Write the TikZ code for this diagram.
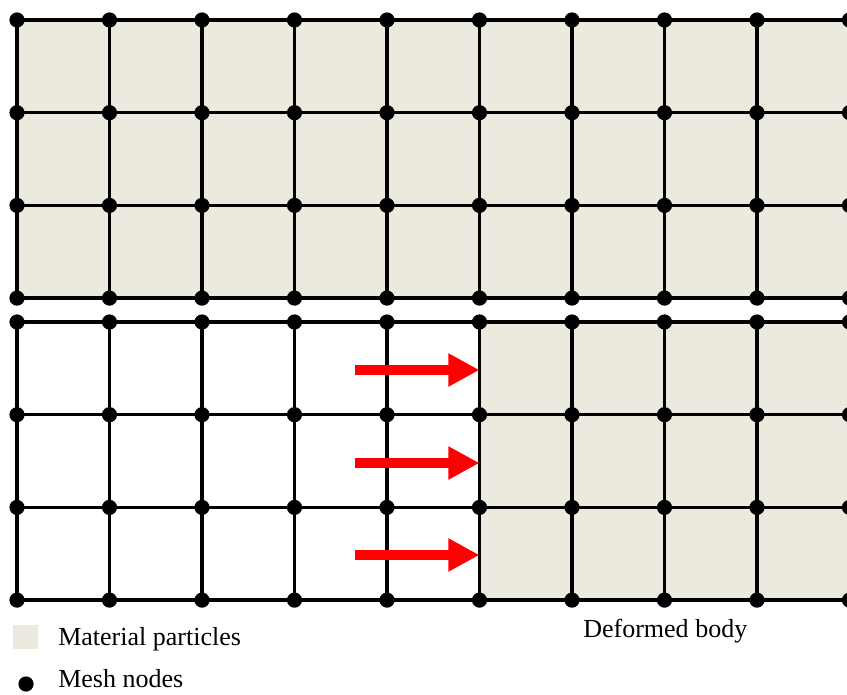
\documentclass[tikz,border=0pt]{standalone}
\usepackage{fontspec}
\setmainfont{Liberation Serif}
\usetikzlibrary{arrows.meta}
\definecolor{particle}{HTML}{ECEADF}
\tikzstyle{grid} = [draw, line width=2.3pt]
\tikzstyle{meshnode} = [circle, fill=black, inner sep=0pt, minimum size=0.38cm]
\tikzstyle{push} = [draw=red, line width=0.25cm, -{Triangle[length=0.78cm, width=0.78cm]}]
\tikzstyle{label} = [inner sep=0pt, anchor=base west, font=\fontsize{18.5}{22}\selectfont]

\begin{document}
\begin{tikzpicture}[x=0.025cm, y=-0.025cm]
    \useasboundingbox (0,0) rectangle (847,695);
    \clip (0,0) rectangle (847,695);

    % mesh points: t = initial body, b = deformed body
    \foreach \i in {0,...,9} {
        \foreach \j in {0,...,3} {
            \coordinate (t-\i-\j) at ({17+92.5*\i}, {20+92.7*\j});
            \coordinate (b-\i-\j) at ({17+92.5*\i}, {322+92.7*\j});
        }
    }

    % material particles
    \fill [particle] (t-0-0) rectangle (t-9-3);
    \fill [particle] (b-5-0) rectangle (b-9-3);

    % grid lines
    \foreach \j in {0,...,3} {
        \path [grid] (t-0-\j) -- (t-9-\j);
        \path [grid] (b-0-\j) -- (b-9-\j);
    }
    \foreach \i in {0,...,9} {
        \path [grid] (t-\i-0) -- (t-\i-3);
        \path [grid] (b-\i-0) -- (b-\i-3);
    }

    % mesh nodes
    \foreach \i in {0,...,9} {
        \foreach \j in {0,...,3} {
            \node [meshnode] at (t-\i-\j) {};
            \node [meshnode] at (b-\i-\j) {};
        }
    }

    % displacement arrows
    \coordinate (a1) at (355,370);
    \coordinate (a2) at (355,463);
    \coordinate (a3) at (355,555);
    \path [push] (a1) -- (a1 -| b-5-0);
    \path [push] (a2) -- (a2 -| b-5-0);
    \path [push] (a3) -- (a3 -| b-5-0);

    % legend
    \fill [particle] (13,625) rectangle (38,649);
    \node [label] (mat) at (58,645) {Material particles};
    \node [meshnode] (dot) at (26,684) {};
    \node [label] (mesh) at (58,687) {Mesh nodes};
    \node [label] (def) at (583,637) {Deformed body};
\end{tikzpicture}
\end{document}
